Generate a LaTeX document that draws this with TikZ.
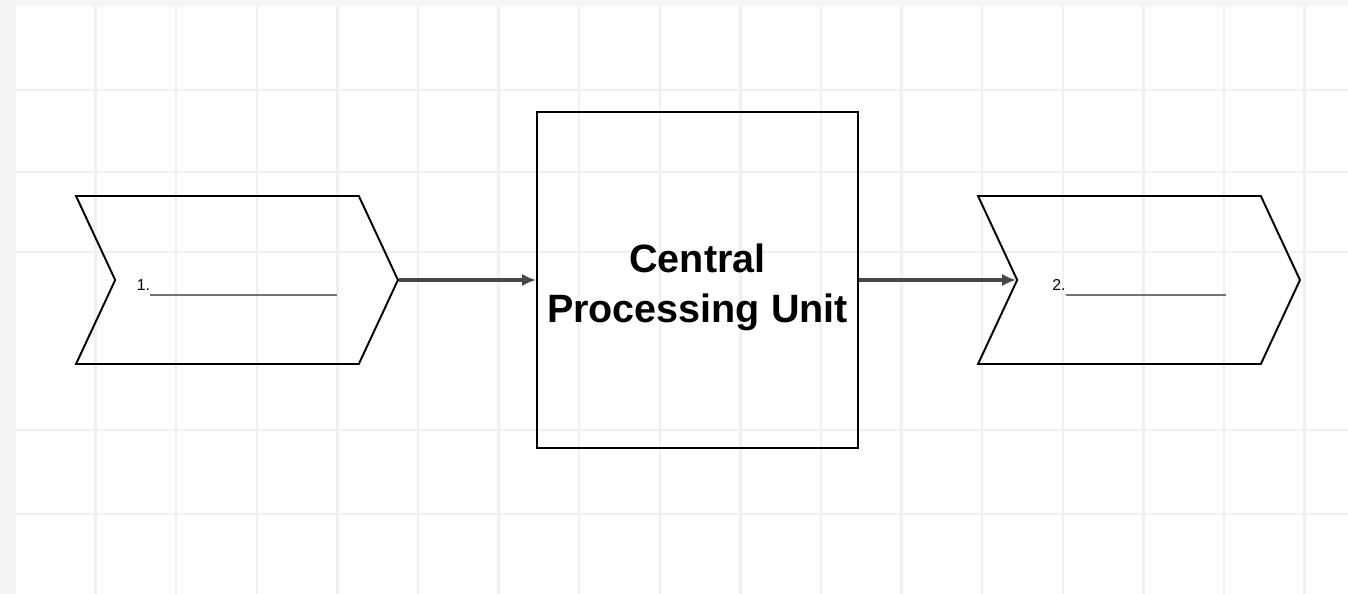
\documentclass[tikz,border=0pt]{standalone}
\usepackage{fontspec}
\setmainfont{Liberation Sans}
\usetikzlibrary{arrows.meta,shapes.symbols}

\begin{document}
\begin{tikzpicture}[x=0.02cm, y=-0.02cm, >={Latex[length=8pt,width=7pt]}]
    \tikzset{
        gridline/.style={gray!12, line width=1.3pt},
        chevron/.style={signal, signal from=west, signal to=east,
            signal pointer angle=130, draw, line width=1.1pt,
            minimum width=6.44cm, minimum height=3.36cm, inner sep=0pt,
            text height=14.9pt, text depth=3.5pt,
            font=\fontsize{9}{10}\selectfont},
        cpubox/.style={draw, line width=1.1pt, minimum width=6.42cm,
            minimum height=6.72cm, align=center,
            font=\bfseries\fontsize{22.5}{28.5}\selectfont},
        flow/.style={->, line width=1.8pt, black!72}
    }
    \useasboundingbox (0,0) rectangle (1348,594);

    % canvas and grid
    \fill[gray!8] (0,0) rectangle (1348,594);
    \fill[white] (16,6) rectangle (1348,594);
    \foreach \x in {95.6,176.2,...,1310} {
        \draw[gridline] (\x,6) -- (\x,594);
    }
    \foreach \y in {90,172,252,430,514} {
        \draw[gridline] (16,\y) -- (1348,\y);
    }

    % input, processor, output
    \node[chevron] (input) at (237,280)
        {1.\textcolor{black!55}{\rule[-3.5pt]{3.74cm}{1.4pt}}};
    \node[cpubox] (cpu) at (697.5,280)
        {\rule{0pt}{0.85cm}Central\\Processing Unit};
    \node[chevron] (output) at (1139,280)
        {2.\textcolor{black!55}{\rule[-3.5pt]{3.2cm}{1.4pt}}};

    % data flow
    \draw[flow] (input.east) -- (cpu.west);
    \draw[flow] (cpu.east) -- (output.west);
\end{tikzpicture}
\end{document}
